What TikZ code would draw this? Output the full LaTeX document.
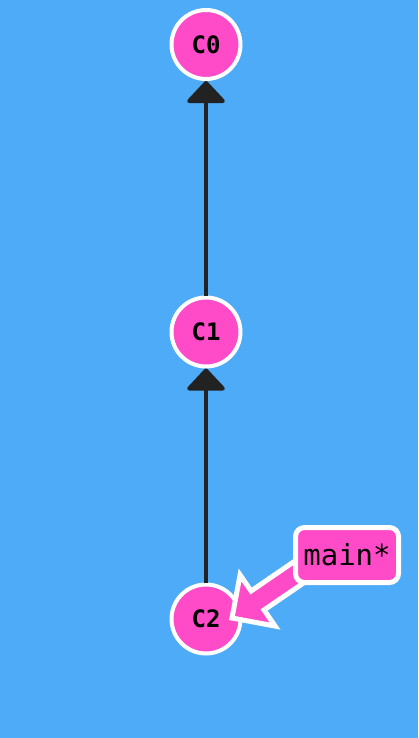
\documentclass[tikz,border=0pt]{standalone}
\usepackage{fontspec}
\setmonofont{DejaVu Sans Mono}
\usetikzlibrary{arrows.meta,calc}
\definecolor{bg}{HTML}{4DABF7}
\definecolor{pk}{HTML}{FF4BC8}
\definecolor{dk}{HTML}{222222}
\begin{document}
\begin{tikzpicture}[x=1pt,y=-1pt,
  commit/.style={circle, fill=pk, draw=white, line width=4pt, minimum size=69pt, inner sep=0pt,
    font=\ttfamily\bfseries\fontsize{24}{24}\selectfont},
  parent/.style={draw=dk, line width=4pt, -{Triangle[length=23pt,width=42pt,round]}},
  branchbox/.style={rectangle, rounded corners=9pt, fill=pk, draw=white, line width=5pt,
    minimum width=103pt, minimum height=55pt, inner sep=0pt,
    font=\ttfamily\fontsize{29}{29}\selectfont},
  ptr/.style={fill=pk, draw=white, line width=5pt, line join=miter}]
\useasboundingbox (0,0) rectangle (418,738);
\fill[bg] (0,0) rectangle (418,738);
\node[commit] (C0) at (206,44.5) {C0};
\node[commit] (C1) at (206,332) {C1};
\node[commit] (C2) at (206,619) {C2};
\draw[parent] (C1) -- (C0);
\draw[parent] (C2) -- (C1);
\coordinate (tip) at ($(C2.center)+(26,-1)$);
\begin{scope}[shift={(tip)}, rotate=214.4]
  \filldraw[ptr] (0,0) -- (-31,31) -- (-31,11.5) -- (-120,11.5) -- (-120,-11.5) -- (-31,-11.5) -- (-31,-31) -- cycle;
\end{scope}
\node[branchbox] (main) at (347,555) {main*};
\end{tikzpicture}
\end{document}
